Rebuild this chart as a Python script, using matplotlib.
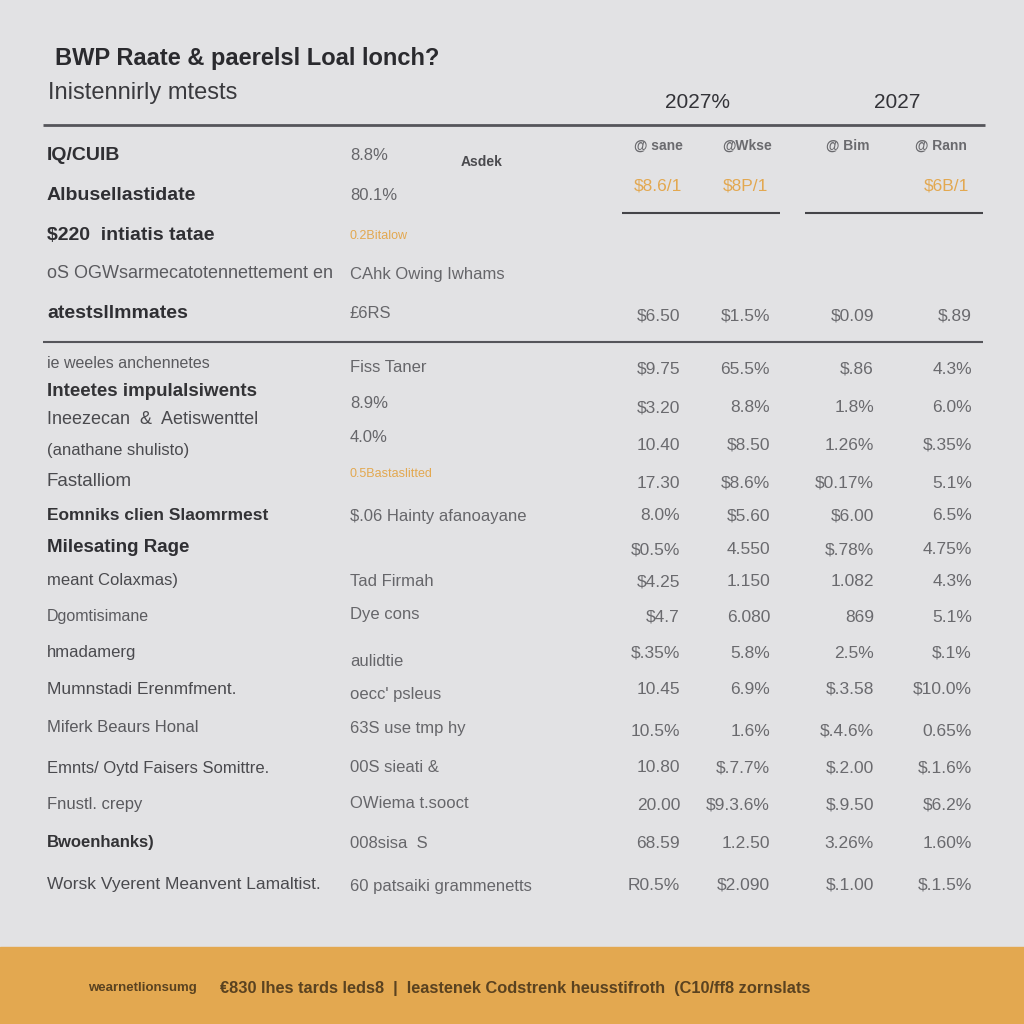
import matplotlib
matplotlib.use("Agg")
import matplotlib.pyplot as plt

# ---------------- data ----------------
title = "BWP Raate & paerelsl Loal lonch?"
subtitle = "Inistennirly mtests"
year_headers = ["2027%", "2027"]
sub_headers = ["@ sane", "@Wkse", "@ Bim", "@ Rann"]
highlight_values = ["$8.6/1", "$8P/1", "", "$6B/1"]

row_labels = [
    "IQ/CUIB", "Albusellastidate", "$220  intiatis tatae",
    "oS OGWsarmecatotennettement en", "atestsllmmates",
    "ie weeles anchennetes", "Inteetes impulalsiwents",
    "Ineezecan  &  Aetiswenttel", "(anathane shulisto)", "Fastalliom",
    "Eomniks clien Slaomrmest", "Milesating Rage", "meant Colaxmas)",
    "Dgomtisimane", "hmadamerg", "Mumnstadi Erenmfment.",
    "Miferk Beaurs Honal", "Emnts/ Oytd Faisers Somittre.",
    "Fnustl. crepy", "Bwoenhanks)", "Worsk Vyerent Meanvent Lamaltist.",
]
row_notes = [
    "8.8%", "80.1%", "0.2Bitalow", "CAhk Owing Iwhams", "£6RS",
    "Fiss Taner", "8.9%", "", "4.0%", "0.5Bastaslitted",
    "$.06 Hainty afanoayane", "", "Tad Firmah", "Dye cons", "aulidtie",
    "oecc' psleus", "63S use tmp hy", "00S sieati &", "OWiema t.sooct",
    "008sisa  S", "60 patsaiki grammenetts",
]
col_a = ["", "", "", "", "$6.50", "$9.75", "", "$3.20", "10.40", "17.30",
         "8.0%", "$0.5%", "$4.25", "$4.7", "$.35%", "10.45", "10.5%",
         "10.80", "20.00", "68.59", "R0.5%"]
col_b = ["", "", "", "", "$1.5%", "65.5%", "", "8.8%", "$8.50", "$8.6%",
         "$5.60", "4.550", "1.150", "6.080", "5.8%", "6.9%", "1.6%",
         "$.7.7%", "$9.3.6%", "1.2.50", "$2.090"]
col_c = ["", "", "", "", "$0.09", "$.86", "", "1.8%", "1.26%", "$0.17%",
         "$6.00", "$.78%", "1.082", "869", "2.5%", "$.3.58", "$.4.6%",
         "$.2.00", "$.9.50", "3.26%", "$.1.00"]
col_d = ["", "", "", "", "$.89", "4.3%", "", "6.0%", "$.35%", "5.1%",
         "6.5%", "4.75%", "4.3%", "5.1%", "$.1%", "$10.0%", "0.65%",
         "$.1.6%", "$6.2%", "1.60%", "$.1.5%"]
side_note = "Asdek"
footer_small = "wearnetlionsumg"
footer_text = "€830 lhes tards leds8  |  leastenek Codstrenk heusstifroth  (C10/ff8 zornslats"

# ---------------- layout (pixels) ----------------
label_y = [155, 196, 236, 274, 313, 364, 392, 420, 450, 481, 515, 547,
           581, 617, 653, 689, 728, 768, 805, 842, 885]
note_y = [155, 196, 236, 274, 313, 367, 403, 420, 438, 474, 516, 547,
          581, 614, 661, 694, 729, 767, 804, 843, 886]
val_y = [None, None, None, None, 316, 369, 402, 408, 445, 483, 516, 550,
         582, 617, 653, 689, 731, 768, 805, 843, 885]
label_style = ["bold", "bold", "bold", "light", "bold", "light", "semibold",
               "normal", "normal", "normal", "semibold", "bold", "normal",
               "light", "normal", "normal", "light", "normal", "light",
               "semibold", "normal"]
label_size = [14, 14, 14, 13, 14, 11.5, 13.5, 13, 12, 13.5, 12.5, 13.5,
              12, 11.5, 12, 12.5, 12, 12, 12, 12, 12.5]
col_x = [680, 770, 874, 972]
label_x = 47
note_x = 350

BG = "#e2e2e4"
ORANGE = "#e3a850"
DARK = "#2f2f33"

plt.rcParams["font.family"] = ["Liberation Sans", "DejaVu Sans"]

fig = plt.figure(figsize=(10.24, 10.24), dpi=100, facecolor=BG)
ax = fig.add_axes([0, 0, 1, 1])
ax.set_xlim(0, 1024)
ax.set_ylim(1024, 0)
ax.axis("off")
ax.set_facecolor(BG)

# title
ax.text(55, 58, title, fontsize=17, fontweight="bold", color="#2a2a2e",
        va="center", ha="left")
ax.text(48, 93, subtitle, fontsize=17, color="#3a3a3e", va="center",
        ha="left")
ax.text(697, 102, year_headers[0], fontsize=15, color="#333338",
        va="center", ha="center")
ax.text(897, 102, year_headers[1], fontsize=15, color="#333338",
        va="center", ha="center")

# rules
ax.hlines(125, 43, 985, color="#55555a", lw=2)
ax.hlines(213, 622, 780, color="#444448", lw=1.5)
ax.hlines(213, 805, 983, color="#444448", lw=1.5)
ax.hlines(342, 43, 983, color="#55555a", lw=1.5)

# sub headers
for x, s in zip([658, 747, 848, 941], sub_headers):
    ax.text(x, 146, s, fontsize=10, fontweight="bold", color="#6a6a6e",
            ha="center", va="center")
for x, s in zip([658, 745, 846, 946], highlight_values):
    if s:
        ax.text(x, 186, s, fontsize=12.5, color=ORANGE, ha="center",
                va="center")

ax.text(482, 162, side_note, fontsize=10, fontweight="bold",
        color="#4a4a4e", ha="center", va="center")

# rows
for i, lab in enumerate(row_labels):
    w = label_style[i]
    if w == "light":
        c, fw = "#5a5a5e", "normal"
    elif w == "normal":
        c, fw = "#4a4a4e", "normal"
    elif w == "semibold":
        c, fw = "#333336", "semibold"
    else:
        c, fw = DARK, "bold"
    ax.text(label_x, label_y[i], lab, fontsize=label_size[i], fontweight=fw,
            color=c, ha="left", va="center")
    note = row_notes[i]
    if note:
        nc = ORANGE if i in (2, 9) else "#66666a"
        ax.text(note_x, note_y[i], note, fontsize=12 if i not in (2, 9) else 9,
                color=nc, ha="left", va="center")
    if val_y[i] is not None:
        for x, col in zip(col_x, [col_a, col_b, col_c, col_d]):
            v = col[i]
            if v:
                ax.text(x, val_y[i], v, fontsize=12.5, color="#6a6a6e",
                        ha="right", va="center")

# footer band
ax.add_patch(plt.Rectangle((0, 947), 1024, 77, color=ORANGE, zorder=0))
ax.text(88, 988, footer_small, fontsize=9.5, fontweight="bold",
        color="#5a4220", ha="left", va="center")
ax.text(220, 988, footer_text, fontsize=11.8, fontweight="bold",
        color="#5a4220", ha="left", va="center")

fig.savefig("out.png", dpi=100, facecolor=BG)
